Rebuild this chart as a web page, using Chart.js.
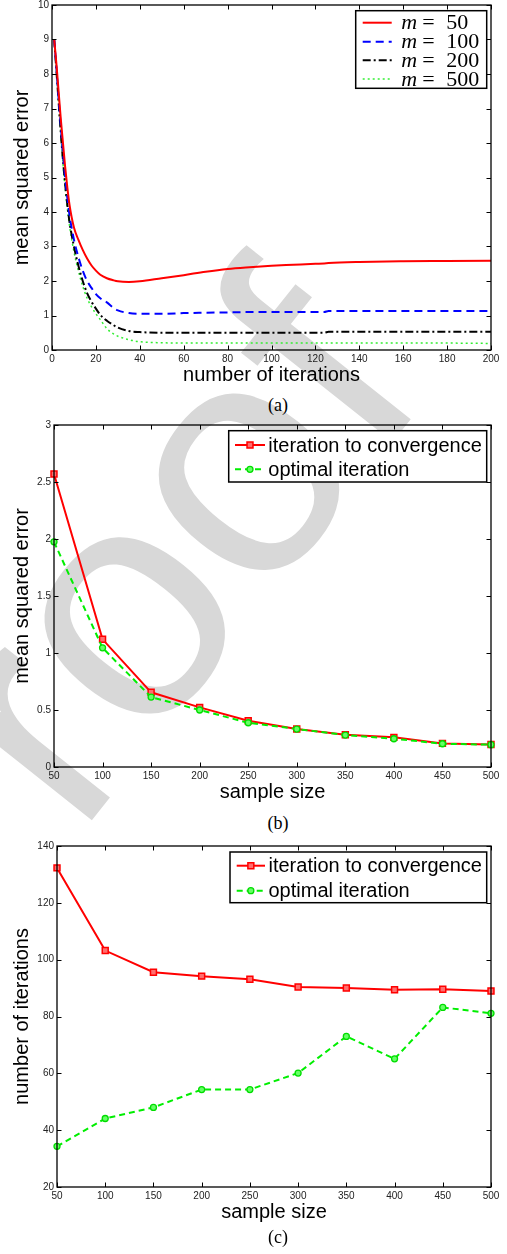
<!DOCTYPE html>
<html><head><meta charset="utf-8">
<script src="https://cdn.jsdelivr.net/npm/chart.js@4.4.0/dist/chart.umd.min.js"></script>
<style>
html,body{margin:0;padding:0;background:#fff;}
body{width:507px;height:1254px;position:relative;overflow:hidden;}
.wm{position:absolute;left:0;top:0;}
.wrap{position:absolute;left:0;width:507px;}
.cap{position:absolute;transform:translateX(-50%);font-family:"Liberation Serif",serif;font-size:18px;line-height:18px;color:#000;white-space:nowrap;}
</style></head><body>
<svg class="wm" width="507" height="1254" xmlns="http://www.w3.org/2000/svg">
  <text x="-59.4" y="1010.4" transform="rotate(-51.5 -59.4 1010.4)" font-family="Liberation Sans, Arial, sans-serif" font-size="330" fill="#d8d8d8">Proof</text>
</svg>
<div class="wrap" style="top:0;height:392px"><canvas id="ca"></canvas></div>
<div class="cap" style="top:396px;left:278px">(a)</div>
<div class="wrap" style="top:410px;height:395px"><canvas id="cb"></canvas></div>
<div class="cap" style="top:814px;left:278px">(b)</div>
<div class="wrap" style="top:830px;height:400px"><canvas id="cc"></canvas></div>
<div class="cap" style="top:1228px;left:278px">(c)</div>
<script>
// ---------- data: (a) MSE vs iterations ----------
const iterations = [1,2,3,4,5,6,7,8,10,12,14,16,18,20,22,25,28,30,35,40,50,60,70,80,90,100,110,120,124,126,140,160,180,200];
const mse_m50  = [9.0,8.3,7.5,6.7,6.0,5.3,4.7,4.2,3.55,3.2,2.9,2.65,2.45,2.3,2.18,2.08,2.02,1.99,1.97,1.99,2.08,2.17,2.27,2.35,2.4,2.44,2.47,2.5,2.51,2.52,2.55,2.57,2.58,2.59];
const mse_m100 = [9.0,8.2,7.3,6.5,5.7,5.0,4.4,3.9,3.2,2.7,2.3,2.0,1.8,1.62,1.5,1.38,1.22,1.15,1.07,1.05,1.05,1.07,1.08,1.09,1.1,1.1,1.1,1.1,1.1,1.13,1.13,1.13,1.13,1.13];
const mse_m200 = [9.0,8.1,7.2,6.3,5.5,4.8,4.2,3.7,3.0,2.45,2.0,1.65,1.4,1.2,1.02,0.85,0.72,0.65,0.55,0.52,0.5,0.5,0.5,0.5,0.5,0.5,0.5,0.5,0.5,0.53,0.53,0.53,0.53,0.53];
const mse_m500 = [9.0,8.1,7.2,6.3,5.4,4.7,4.1,3.6,2.85,2.3,1.85,1.5,1.25,1.05,0.88,0.62,0.47,0.4,0.3,0.24,0.21,0.2,0.2,0.2,0.2,0.2,0.2,0.2,0.2,0.2,0.2,0.2,0.2,0.19];
const labelsA = ['m = 50','m = 100','m = 200','m = 500'];

// ---------- data: (b) and (c) vs sample size ----------
const sampleSizes = [50,100,150,200,250,300,350,400,450,500];
const mseConv = [2.57,1.12,0.655,0.523,0.405,0.333,0.283,0.26,0.207,0.197];
const mseOpt  = [1.975,1.045,0.613,0.5,0.388,0.333,0.28,0.248,0.204,0.196];
const itConv  = [132.3,103.2,95.6,94.2,93.1,90.4,90.0,89.4,89.6,89.0];
const itOpt   = [34.3,44.1,48.0,54.3,54.3,60.1,73.0,65.1,83.2,81.1];
const labelsBC = ['iteration to convergence','optimal iteration'];

const SANS = '"Liberation Sans", Arial, sans-serif';
const SERIF = '"Liberation Serif", "Times New Roman", serif';

function pts(xs, ys){ return xs.map((x,i)=>({x:x, y:ys[i]})); }

const boxPlugin = {
  id:'box',
  afterDatasetsDraw(chart, args, opts){
    const {ctx, chartArea:a} = chart;
    const x = chart.scales.x, y = chart.scales.y;
    ctx.save();
    ctx.strokeStyle='#000'; ctx.lineWidth=1; ctx.setLineDash([]);
    const L=4.5;
    ctx.beginPath();
    x.ticks.forEach(t=>{const px=Math.round(x.getPixelForValue(t.value))+0.5;
      ctx.moveTo(px,a.bottom); ctx.lineTo(px,a.bottom-L); ctx.moveTo(px,a.top); ctx.lineTo(px,a.top+L);});
    y.ticks.forEach(t=>{const py=Math.round(y.getPixelForValue(t.value))+0.5;
      ctx.moveTo(a.left,py); ctx.lineTo(a.left+L,py); ctx.moveTo(a.right,py); ctx.lineTo(a.right-L,py);});
    ctx.stroke();
    ctx.lineWidth=1.3;
    ctx.strokeRect(a.left,a.top,a.right-a.left,a.bottom-a.top);
    // legend
    const lg = opts.legend;
    if(lg){
      ctx.fillStyle='#fff';
      ctx.fillRect(lg.x,lg.y,lg.w,lg.h);
      ctx.lineWidth=1.5; ctx.strokeStyle='#000';
      ctx.strokeRect(lg.x,lg.y,lg.w,lg.h);
      chart.data.datasets.forEach((ds,i)=>{
        const ry = lg.y + lg.rows[i];
        const x0 = lg.x + lg.l0, x1 = lg.x + lg.l1;
        ctx.save();
        ctx.strokeStyle = ds.borderColor; ctx.lineWidth = ds.borderWidth;
        ctx.setLineDash(ds.borderDash || []);
        ctx.beginPath(); ctx.moveTo(x0,ry); ctx.lineTo(x1,ry); ctx.stroke();
        ctx.setLineDash([]);
        if(ds.pointRadius>0){
          const cx=(x0+x1)/2;
          ctx.lineWidth = ds.pointBorderWidth; ctx.strokeStyle=ds.pointBorderColor; ctx.fillStyle=ds.pointBackgroundColor;
          ctx.beginPath();
          if(ds.pointStyle==='rect'){ const s=ds.pointRadius*Math.SQRT1_2; ctx.rect(cx-s,ry-s,2*s,2*s); }
          else { ctx.arc(cx,ry,ds.pointRadius,0,Math.PI*2); }
          ctx.fill(); ctx.stroke();
        }
        ctx.restore();
        ctx.fillStyle='#000'; ctx.textBaseline='middle'; ctx.textAlign='left';
        const lab = ds.label;
        if(lg.math){
          const parts = lab.split(' = ');
          ctx.font = 'italic 22px ' + SERIF;
          ctx.fillText(parts[0], lg.x + lg.tx, ry+1);
          ctx.font = '22px ' + SERIF;
          ctx.fillText('=', lg.x + lg.tx + 21, ry+1);
          ctx.fillText(parts[1], lg.x + lg.tx + 45, ry+1);
        } else {
          ctx.font = '20px ' + SANS;
          ctx.fillText(lab, lg.x + lg.tx, ry+1);
        }
      });
    }
    ctx.restore();
  }
};

function makeChart(id, datasets, sc, lay, legend){
  return new Chart(document.getElementById(id), {
    type:'line',
    data:{datasets:datasets},
    options:{
      responsive:true, maintainAspectRatio:false, animation:false,
      layout:{padding:{left:0, right:16, top:lay.top, bottom:lay.bottom}},
      plugins:{legend:{display:false}, tooltip:{enabled:false}, box:{legend:legend}},
      scales:{
        x:{type:'linear', min:sc.xmin, max:sc.xmax,
          ticks:{stepSize:sc.xstep, autoSkip:false, maxRotation:0, padding:3, color:'#222',
            font:{family:SANS,size:10}, callback:v=>String(v)},
          grid:{display:false, drawTicks:false}, border:{display:false},
          title:{display:true, text:sc.xtitle, color:'#000', font:{family:SANS,size:20,lineHeight:1}, padding:{top:0,bottom:0}},
          afterFit:s=>{s.height=35; s.paddingLeft=0; s.paddingRight=0;}},
        y:{type:'linear', min:sc.ymin, max:sc.ymax,
          ticks:{stepSize:sc.ystep, autoSkip:false, padding:3, color:'#222',
            font:{family:SANS,size:10}, callback:v=>String(+v.toFixed(2))},
          grid:{display:false, drawTicks:false}, border:{display:false},
          title:{display:true, text:sc.ytitle, color:'#000', font:{family:SANS,size:20,lineHeight:1}, padding:{top:12,bottom:0}},
          afterFit:s=>{s.width=lay.yw; s.paddingTop=0; s.paddingBottom=0;}}
      }
    },
    plugins:[boxPlugin]
  });
}

// (a)
makeChart('ca', [
  {label:labelsA[0], data:pts(iterations,mse_m50), borderColor:'#ff0000', borderWidth:2, pointRadius:0, cubicInterpolationMode:'monotone', order:0},
  {label:labelsA[1], data:pts(iterations,mse_m100), borderColor:'#0000ff', borderWidth:2, borderDash:[8,5], pointRadius:0, cubicInterpolationMode:'monotone', order:1},
  {label:labelsA[2], data:pts(iterations,mse_m200), borderColor:'#000000', borderWidth:2, borderDash:[8,3,2,3], pointRadius:0, cubicInterpolationMode:'monotone', order:2},
  {label:labelsA[3], data:pts(iterations,mse_m500), borderColor:'#33ee33', borderWidth:1.5, borderDash:[2,3], pointRadius:0, cubicInterpolationMode:'monotone', order:3}
], {xmin:0,xmax:200,xstep:20,ymin:0,ymax:10,ystep:1,xtitle:'number of iterations',ytitle:'mean squared error'},
 {top:5,bottom:7,yw:52},
 {x:355.7,y:10.7,w:131,h:77.6,rows:[12,31,49.5,68.3],l0:7,l1:36,tx:45.5,math:true});

// (b)
makeChart('cb', [
  {label:labelsBC[0], data:pts(sampleSizes,mseConv), borderColor:'#ff0000', borderWidth:2, pointStyle:'rect', pointRadius:4.2, pointBorderWidth:1.5, pointBorderColor:'#ff0000', pointBackgroundColor:'rgba(255,110,110,1)', clip:false, order:1},
  {label:labelsBC[1], data:pts(sampleSizes,mseOpt), borderColor:'#00ee00', borderWidth:2, borderDash:[6,4], pointStyle:'circle', pointRadius:3, pointBorderWidth:1.3, pointBorderColor:'#00dd00', pointBackgroundColor:'#66ff66', clip:false, order:0}
], {xmin:50,xmax:500,xstep:50,ymin:0,ymax:3,ystep:0.5,xtitle:'sample size',ytitle:'mean squared error'},
 {top:15,bottom:3,yw:54},
 {x:228.7,y:20.7,w:258,h:51.3,rows:[14.3,38.6],l0:6.3,l1:36.3,tx:39.6,math:false});

// (c)
makeChart('cc', [
  {label:labelsBC[0], data:pts(sampleSizes,itConv), borderColor:'#ff0000', borderWidth:2, pointStyle:'rect', pointRadius:4.2, pointBorderWidth:1.5, pointBorderColor:'#ff0000', pointBackgroundColor:'rgba(255,110,110,1)', clip:false, order:1},
  {label:labelsBC[1], data:pts(sampleSizes,itOpt), borderColor:'#00ee00', borderWidth:2, borderDash:[6,4], pointStyle:'circle', pointRadius:3, pointBorderWidth:1.3, pointBorderColor:'#00dd00', pointBackgroundColor:'#66ff66', clip:false, order:0}
], {xmin:50,xmax:500,xstep:50,ymin:20,ymax:140,ystep:20,xtitle:'sample size',ytitle:'number of iterations'},
 {top:16,bottom:8,yw:57},
 {x:230,y:22,w:256.7,h:50.7,rows:[13.7,38.7],l0:6.7,l1:35,tx:38.5,math:false});
</script>
</body></html>
